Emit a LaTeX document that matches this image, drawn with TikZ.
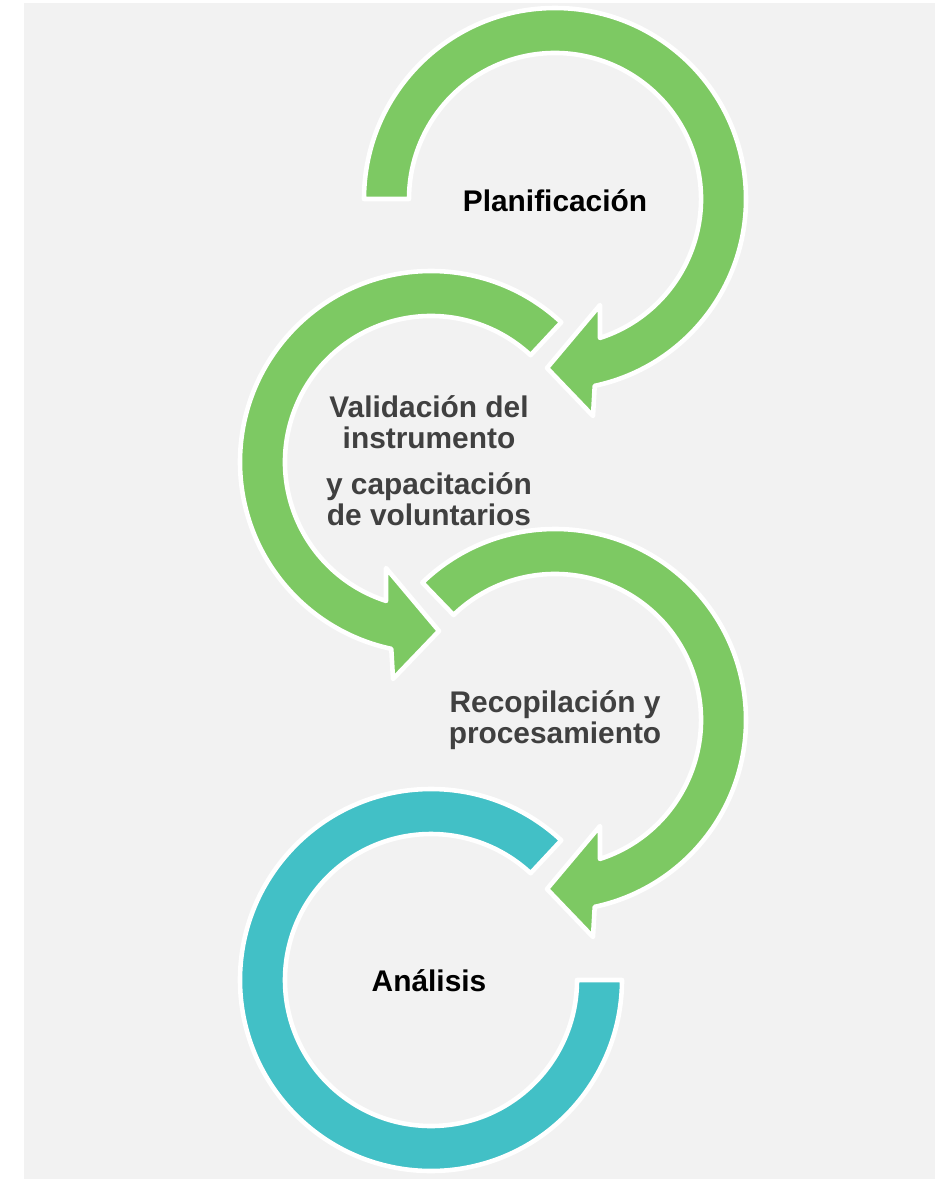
\documentclass[tikz,border=0pt]{standalone}
\usepackage{fontspec}
\setmainfont{Liberation Sans}
\usetikzlibrary{positioning}
\definecolor{stepgreen}{RGB}{125,201,99}
\definecolor{stepteal}{RGB}{66,192,198}
\definecolor{panelgray}{RGB}{242,242,242}
\definecolor{labelgray}{RGB}{64,64,64}

\begin{document}
\begin{tikzpicture}[x=0.2mm, y=0.2mm,
	every node/.style={font=\fontsize{17}{17.6}\selectfont\bfseries, align=center, anchor=base},
	ring/.style={draw=white, line width=2.6pt, line join=round},
	]
	
	% Background
	\fill[panelgray] (24,-3) rectangle (935,-1179);
	\useasboundingbox (0,0) rectangle (935,-1179);
	
	% Arrows (outer radius 38.2mm, inner radius 29.2mm)
	\begin{scope}[shift={(555,-199)}]
		\filldraw[ring, fill=stepgreen] (180:38.2mm) arc (180:-78:38.2mm) -- (38,-217) -- (-8,-169) -- (45,-106) -- (-72.06:29.2mm) arc (-72.06:180:29.2mm) -- cycle;
	\end{scope}
	\begin{scope}[shift={(431,-462)}]
		\filldraw[ring, fill=stepgreen] (47:38.2mm) arc (47:258:38.2mm) -- (-38,-217) -- (8,-169) -- (-45,-106) -- (252.06:29.2mm) arc (252.06:47:29.2mm) -- cycle;
	\end{scope}
	\begin{scope}[shift={(555,-720)}]
		\filldraw[ring, fill=stepgreen] (134:38.2mm) arc (134:-78:38.2mm) -- (38,-217) -- (-8,-169) -- (45,-106) -- (-72.06:29.2mm) arc (-72.06:134:29.2mm) -- cycle;
	\end{scope}
	\begin{scope}[shift={(431,-980)}]
		\filldraw[ring, fill=stepteal] (47:38.2mm) arc (47:360:38.2mm) -- (0:29.2mm) arc (360:47:29.2mm) -- cycle;
	\end{scope}
	
	% Labels (base = last line)
	\node (plan) at (555,-211) {Planificaci\'on};
	\node[text=labelgray] (valid) at (429,-448) {Validaci\'on del\\instrumento};
	\node[text=labelgray] (capac) at (429,-525) {y capacitaci\'on\\de voluntarios};
	\node[text=labelgray] (recop) at (555,-743) {Recopilaci\'on y\\procesamiento};
	\node (anal) at (429,-991) {An\'alisis};
\end{tikzpicture}
\end{document}
